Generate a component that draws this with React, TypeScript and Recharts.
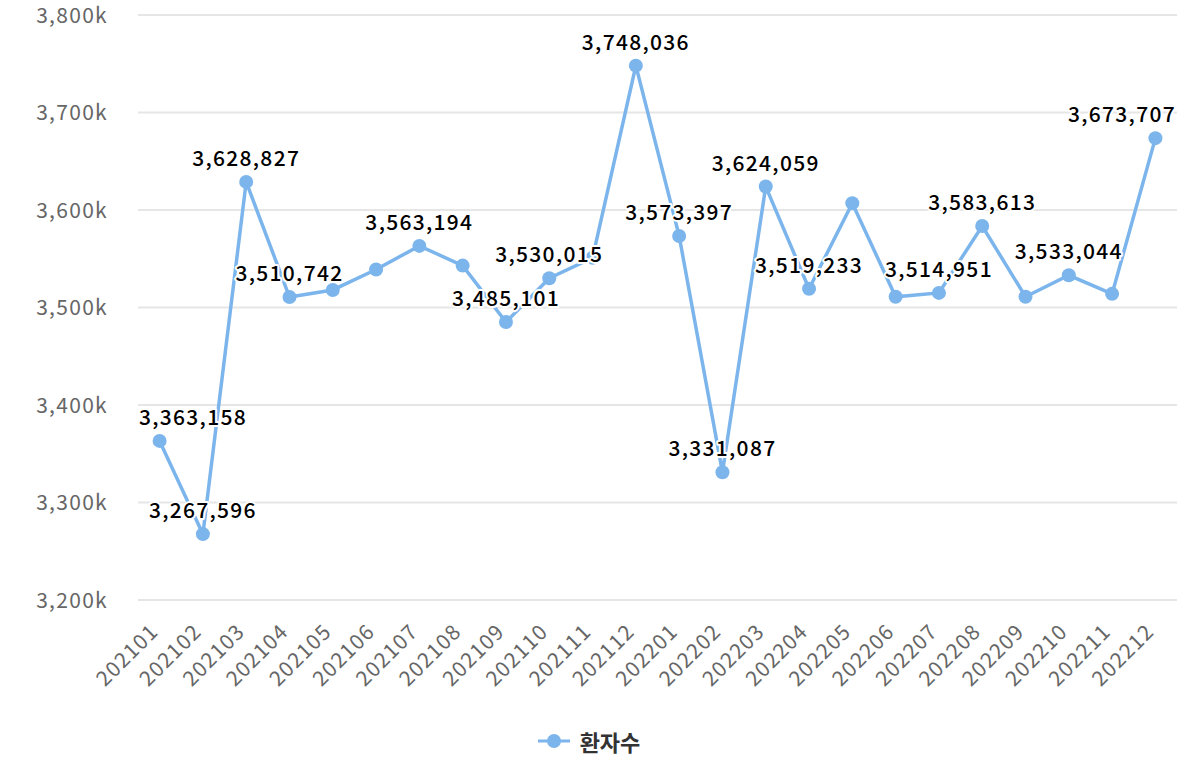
import React from 'react';
import { LineChart, Line, XAxis, YAxis, CartesianGrid, Legend, LabelList } from 'recharts';

// 월별 환자수 (2021.01 ~ 2022.12)
const months = [
  '202101', '202102', '202103', '202104', '202105', '202106',
  '202107', '202108', '202109', '202110', '202111', '202112',
  '202201', '202202', '202203', '202204', '202205', '202206',
  '202207', '202208', '202209', '202210', '202211', '202212',
];

const patients = [
  3363158, 3267596, 3628827, 3510742, 3518000, 3539000,
  3563194, 3543000, 3485101, 3530015, 3551000, 3748036,
  3573397, 3331087, 3624059, 3519233, 3607000, 3511000,
  3514951, 3583613, 3511000, 3533044, 3514000, 3673707,
];

// which points keep their data label (the rest were hidden for overlap)
const labelShown = [
  true, true, true, true, false, false,
  true, false, true, true, false, true,
  true, true, true, true, false, false,
  true, true, false, true, false, true,
];

const yTicks = [3200000, 3300000, 3400000, 3500000, 3600000, 3700000, 3800000];

const seriesName = '환자수';

const data = months.map((m, i) => ({
  month: m,
  value: patients[i],
  label: labelShown[i] ? patients[i] : null,
}));

const FONT = '"Noto Sans CJK KR", "Noto Sans", sans-serif';
const COLOR = '#7cb5ec';
const PLOT_LEFT = 138;
const PLOT_RIGHT = 1177;

const YTick = (props: any) => {
  const { x, y, payload } = props;
  return (
    <text
      x={x - 22}
      y={y}
      dy="0.38em"
      textAnchor="end"
      fill="#666"
      fontSize={21}
      letterSpacing={1.3}
      fontFamily={FONT}
    >
      {`${(payload.value / 1000).toLocaleString('en-US')}k`}
    </text>
  );
};

const XTick = (props: any) => {
  const { x, y, payload } = props;
  return (
    <g transform={`translate(${x},${y + 25})`}>
      <text
        textAnchor="end"
        transform="rotate(-45)"
        fill="#666"
        fontSize={21}
        letterSpacing={1.2}
        fontFamily={FONT}
      >
        {payload.value}
      </text>
    </g>
  );
};

const PointLabel = (props: any) => {
  const { x, y, value } = props;
  if (value === null || value === undefined) return null;
  const half = 55;
  const cx = Math.min(Math.max(x, PLOT_LEFT + half), PLOT_RIGHT - half);
  return (
    <text
      x={cx}
      y={y - 16}
      textAnchor="middle"
      fill="#000"
      fontSize={21}
      fontWeight={500}
      letterSpacing={1.3}
      fontFamily={FONT}
      stroke="#fff"
      strokeWidth={4}
      strokeLinejoin="round"
      style={{ paintOrder: 'stroke' }}
    >
      {Number(value).toLocaleString('en-US')}
    </text>
  );
};

const LegendContent = () => (
  <div style={{ height: 40, display: 'flex', justifyContent: 'center', alignItems: 'center' }}>
    <svg width={34} height={16} style={{ marginRight: 9 }}>
      <line x1={1} y1={8} x2={33} y2={8} stroke={COLOR} strokeWidth={3} />
      <circle cx={17} cy={8} r={7} fill={COLOR} />
    </svg>
    <span style={{ fontFamily: FONT, fontSize: 22, fontWeight: 700, color: '#333' }}>{seriesName}</span>
  </div>
);

export default function App() {
  return (
    <div style={{ position: 'absolute', left: 0, top: 0, background: '#fff' }}>
      <LineChart
        width={1197}
        height={771}
        data={data}
        margin={{ top: 15, right: 20, bottom: 10, left: 0 }}
      >
        <CartesianGrid vertical={false} stroke="#e6e6e6" strokeWidth={2} />
        <XAxis
          dataKey="month"
          interval={0}
          height={121}
          padding={{ left: 21.6, right: 21.6 }}
          axisLine={false}
          tickLine={false}
          tick={<XTick />}
        />
        <YAxis
          width={138}
          domain={[3200000, 3800000]}
          ticks={yTicks}
          axisLine={false}
          tickLine={false}
          tick={<YTick />}
        />
        <Legend verticalAlign="bottom" content={<LegendContent />} />
        <Line
          type="linear"
          dataKey="value"
          name={seriesName}
          stroke={COLOR}
          strokeWidth={3.5}
          dot={{ r: 7, fill: COLOR, stroke: COLOR, strokeWidth: 0 }}
          activeDot={false}
          isAnimationActive={false}
        >
          <LabelList dataKey="label" content={<PointLabel />} />
        </Line>
      </LineChart>
    </div>
  );
}
